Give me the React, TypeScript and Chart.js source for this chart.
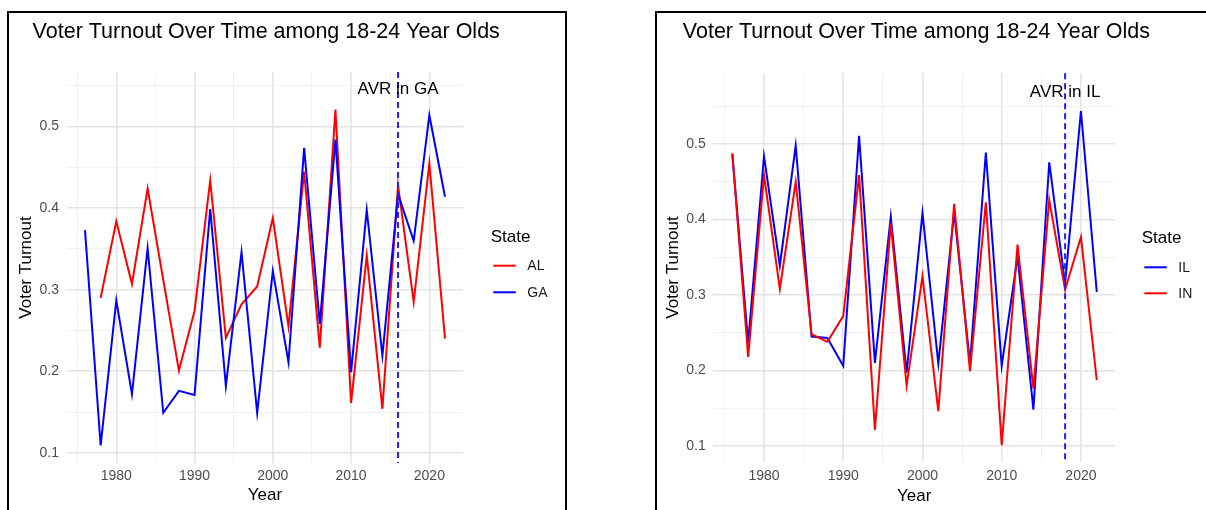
import React, { useEffect, useRef } from "react";
import { Chart, registerables } from "chart.js";

Chart.register(...registerables);
Chart.defaults.font.family = "'Liberation Sans', Arial, Helvetica, sans-serif";

// ---------- data ----------
const years = [1976, 1978, 1980, 1982, 1984, 1986, 1988, 1990, 1992, 1994, 1996, 1998, 2000, 2002, 2004, 2006, 2008, 2010, 2012, 2014, 2016, 2018, 2020, 2022];

const alTurnout = [null, 0.290, 0.384, 0.307, 0.424, 0.312, 0.201, 0.274, 0.434, 0.241, 0.282, 0.304, 0.388, 0.255, 0.445, 0.229, 0.521, 0.161, 0.342, 0.154, 0.428, 0.285, 0.455, 0.240];
const gaTurnout = [0.373, 0.109, 0.287, 0.172, 0.351, 0.149, 0.176, 0.171, 0.399, 0.182, 0.346, 0.149, 0.323, 0.211, 0.474, 0.258, 0.484, 0.199, 0.398, 0.219, 0.417, 0.360, 0.514, 0.414];

const ilTurnout = [0.487, 0.237, 0.484, 0.339, 0.498, 0.245, 0.243, 0.206, 0.511, 0.210, 0.404, 0.197, 0.409, 0.209, 0.410, 0.209, 0.489, 0.206, 0.351, 0.148, 0.476, 0.315, 0.544, 0.304];
const inTurnout = [0.488, 0.218, 0.459, 0.308, 0.450, 0.248, 0.238, 0.272, 0.459, 0.121, 0.395, 0.180, 0.325, 0.146, 0.421, 0.199, 0.423, 0.101, 0.367, 0.176, 0.426, 0.307, 0.377, 0.187];

const xTickValues = [1975, 1980, 1985, 1990, 1995, 2000, 2005, 2010, 2015, 2020];
const yTickValues = [0.1, 0.15, 0.2, 0.25, 0.3, 0.35, 0.4, 0.45, 0.5, 0.55];

const chartTitle = "Voter Turnout Over Time among 18-24 Year Olds";
const xAxisTitle = "Year";
const yAxisTitle = "Voter Turnout";
const legendTitle = "State";

const gaAvrYear = 2016;
const gaAvrLabel = "AVR in GA";
const gaAvrLabelY = 0.5455;
const ilAvrYear = 2018;
const ilAvrLabel = "AVR in IL";
const ilAvrLabelY = 0.5694;

// ---------- helpers ----------
const isMajorX = (v: number) => Math.abs(v % 10) < 1e-6;
const isMajorY = (v: number) => Math.abs(v * 10 - Math.round(v * 10)) < 1e-6;

type Series = { label: string; color: string; values: (number | null)[] };
type PanelCfg = {
  left: number; top: number; width: number; height: number;
  padTop: number; padRight: number; yAxisW: number; xAxisH: number;
  xMin: number; xMax: number; yMin: number; yMax: number;
  yTitlePad: number; yTickPad: number; xTickPad: number; xTitlePad: number;
  series: Series[];
  avrYear: number; avrLabel: string; avrLabelY: number;
  titleX: number; titleY: number;
  legendTitleX: number; legendTitleY: number;
  legendLineX: number; legendLineY: number; legendRowGap: number; legendTextX: number;
};

function PanelChart({ cfg }: { cfg: PanelCfg }) {
  const ref = useRef<HTMLCanvasElement>(null);
  useEffect(() => {
    if (!ref.current) return;
    const decor = {
      id: "decor",
      afterDatasetsDraw(chart: any) {
        const { ctx, chartArea, scales } = chart;
        ctx.save();
        // vertical dashed line
        const vx = scales.x.getPixelForValue(cfg.avrYear);
        ctx.strokeStyle = "#1f1fff";
        ctx.lineWidth = 2;
        ctx.setLineDash([6, 4]);
        ctx.beginPath();
        ctx.moveTo(vx, chartArea.top);
        ctx.lineTo(vx, chartArea.bottom);
        ctx.stroke();
        ctx.setLineDash([]);
        // annotation
        ctx.fillStyle = "#000000";
        ctx.font = "17px 'Liberation Sans', Arial, sans-serif";
        ctx.textAlign = "center";
        ctx.textBaseline = "middle";
        ctx.fillText(cfg.avrLabel, vx, scales.y.getPixelForValue(cfg.avrLabelY));
        // title
        ctx.font = "21.5px 'Liberation Sans', Arial, sans-serif";
        ctx.textAlign = "left";
        ctx.textBaseline = "alphabetic";
        ctx.fillText(chartTitle, cfg.titleX, cfg.titleY);
        // legend
        ctx.font = "17px 'Liberation Sans', Arial, sans-serif";
        ctx.fillText(legendTitle, cfg.legendTitleX, cfg.legendTitleY);
        ctx.font = "14px 'Liberation Sans', Arial, sans-serif";
        ctx.textBaseline = "middle";
        chart.data.datasets.forEach((ds: any, i: number) => {
          const y = cfg.legendLineY + i * cfg.legendRowGap;
          ctx.strokeStyle = ds.borderColor;
          ctx.lineWidth = 2;
          ctx.beginPath();
          ctx.moveTo(cfg.legendLineX, y);
          ctx.lineTo(cfg.legendLineX + 22.5, y);
          ctx.stroke();
          ctx.fillStyle = "#1a1a1a";
          ctx.fillText(ds.label, cfg.legendTextX, y + 0.5);
        });
        ctx.restore();
      },
    };

    const n = cfg.series.length;
    const chart = new Chart(ref.current, {
      type: "line",
      data: {
        datasets: cfg.series.map((s, i) => ({
          label: s.label,
          data: years.map((yr, k) => ({ x: yr, y: s.values[k] })),
          borderColor: s.color,
          backgroundColor: s.color,
          borderWidth: 2,
          pointRadius: 0,
          pointHoverRadius: 0,
          tension: 0,
          fill: false,
          spanGaps: false,
          order: n - i,
        })),
      },
      options: {
        animation: false,
        responsive: false,
        devicePixelRatio: 1,
        events: [],
        layout: { padding: { top: cfg.padTop, right: cfg.padRight, left: 0, bottom: 0 } },
        plugins: { legend: { display: false }, tooltip: { enabled: false }, title: { display: false } },
        scales: {
          x: {
            type: "linear",
            min: cfg.xMin,
            max: cfg.xMax,
            afterBuildTicks: (s: any) => { s.ticks = xTickValues.map((v) => ({ value: v })); },
            afterFit: (s: any) => { s.height = cfg.xAxisH; },
            grid: {
              drawTicks: false,
              color: (c: any) => (isMajorX(c.tick?.value ?? 0) ? "#e4e4e4" : "#efefef"),
              lineWidth: (c: any) => (isMajorX(c.tick?.value ?? 0) ? 1.6 : 0.9),
            },
            border: { display: false },
            ticks: {
              autoSkip: false,
              maxRotation: 0,
              padding: cfg.xTickPad,
              color: "#4d4d4d",
              font: { size: 14 },
              callback: (v: any) => (isMajorX(Number(v)) ? String(v) : ""),
            },
            title: { display: true, text: xAxisTitle, color: "#000000", font: { size: 17 }, padding: { top: 0, bottom: cfg.xTitlePad } },
          },
          y: {
            type: "linear",
            min: cfg.yMin,
            max: cfg.yMax,
            afterBuildTicks: (s: any) => { s.ticks = yTickValues.map((v) => ({ value: v })); },
            afterFit: (s: any) => { s.width = cfg.yAxisW; },
            grid: {
              drawTicks: false,
              color: (c: any) => (isMajorY(c.tick?.value ?? 0) ? "#e4e4e4" : "#efefef"),
              lineWidth: (c: any) => (isMajorY(c.tick?.value ?? 0) ? 1.6 : 0.9),
            },
            border: { display: false },
            ticks: {
              autoSkip: false,
              padding: cfg.yTickPad,
              color: "#4d4d4d",
              font: { size: 14 },
              callback: (v: any) => (isMajorY(Number(v)) ? Number(v).toFixed(1) : ""),
            },
            title: { display: true, text: yAxisTitle, color: "#000000", font: { size: 17 }, padding: { top: cfg.yTitlePad, bottom: 0 } },
          },
        },
      },
      plugins: [decor],
    } as any);
    return () => chart.destroy();
  }, []);
  return (
    <canvas
      ref={ref}
      width={cfg.width}
      height={cfg.height}
      style={{ position: "absolute", left: cfg.left, top: cfg.top, width: cfg.width, height: cfg.height }}
    />
  );
}

const leftCfg: PanelCfg = {
  left: 9, top: 13, width: 556, height: 497,
  padTop: 59, padRight: 102, yAxisW: 58, xAxisH: 47,
  xMin: 1973.7, xMax: 2024.3, yMin: 0.0875, yMax: 0.567,
  yTitlePad: 6.7, yTickPad: 8, xTickPad: 5, xTitlePad: 4.3,
  series: [
    { label: "AL", color: "#ff0000", values: alTurnout },
    { label: "GA", color: "#0000ff", values: gaTurnout },
  ],
  avrYear: gaAvrYear, avrLabel: gaAvrLabel, avrLabelY: gaAvrLabelY,
  titleX: 23.6, titleY: 25,
  legendTitleX: 481.7, legendTitleY: 228.7,
  legendLineX: 484.3, legendLineY: 252.7, legendRowGap: 26.6, legendTextX: 518.3,
};

const rightCfg: PanelCfg = {
  left: 657, top: 13, width: 549, height: 497,
  padTop: 60.3, padRight: 91, yAxisW: 56.3, xAxisH: 48.3,
  xMin: 1973.6, xMax: 2024.3, yMin: 0.079, yMax: 0.594,
  yTitlePad: 5.8, yTickPad: 7.6, xTickPad: 6.5, xTitlePad: 3.8,
  series: [
    { label: "IL", color: "#0000ff", values: ilTurnout },
    { label: "IN", color: "#ff0000", values: inTurnout },
  ],
  avrYear: ilAvrYear, avrLabel: ilAvrLabel, avrLabelY: ilAvrLabelY,
  titleX: 25.8, titleY: 24.5,
  legendTitleX: 484.7, legendTitleY: 229.7,
  legendLineX: 487.3, legendLineY: 254.3, legendRowGap: 26, legendTextX: 521.3,
};

export default function App() {
  useEffect(() => {
    document.body.style.overflow = "hidden";
  }, []);
  return (
    <div style={{ position: "absolute", left: 0, top: 0, width: 1206, height: 510, background: "#ffffff", overflow: "hidden" }}>
      <div
        style={{
          position: "absolute", left: 7, top: 11, width: 560, height: 499, boxSizing: "border-box",
          borderLeft: "2px solid #000", borderTop: "2px solid #000", borderRight: "2px solid #000",
        }}
      />
      <div
        style={{
          position: "absolute", left: 655, top: 11, width: 551, height: 499, boxSizing: "border-box",
          borderLeft: "2px solid #000", borderTop: "2px solid #000",
        }}
      />
      <PanelChart cfg={leftCfg} />
      <PanelChart cfg={rightCfg} />
    </div>
  );
}
